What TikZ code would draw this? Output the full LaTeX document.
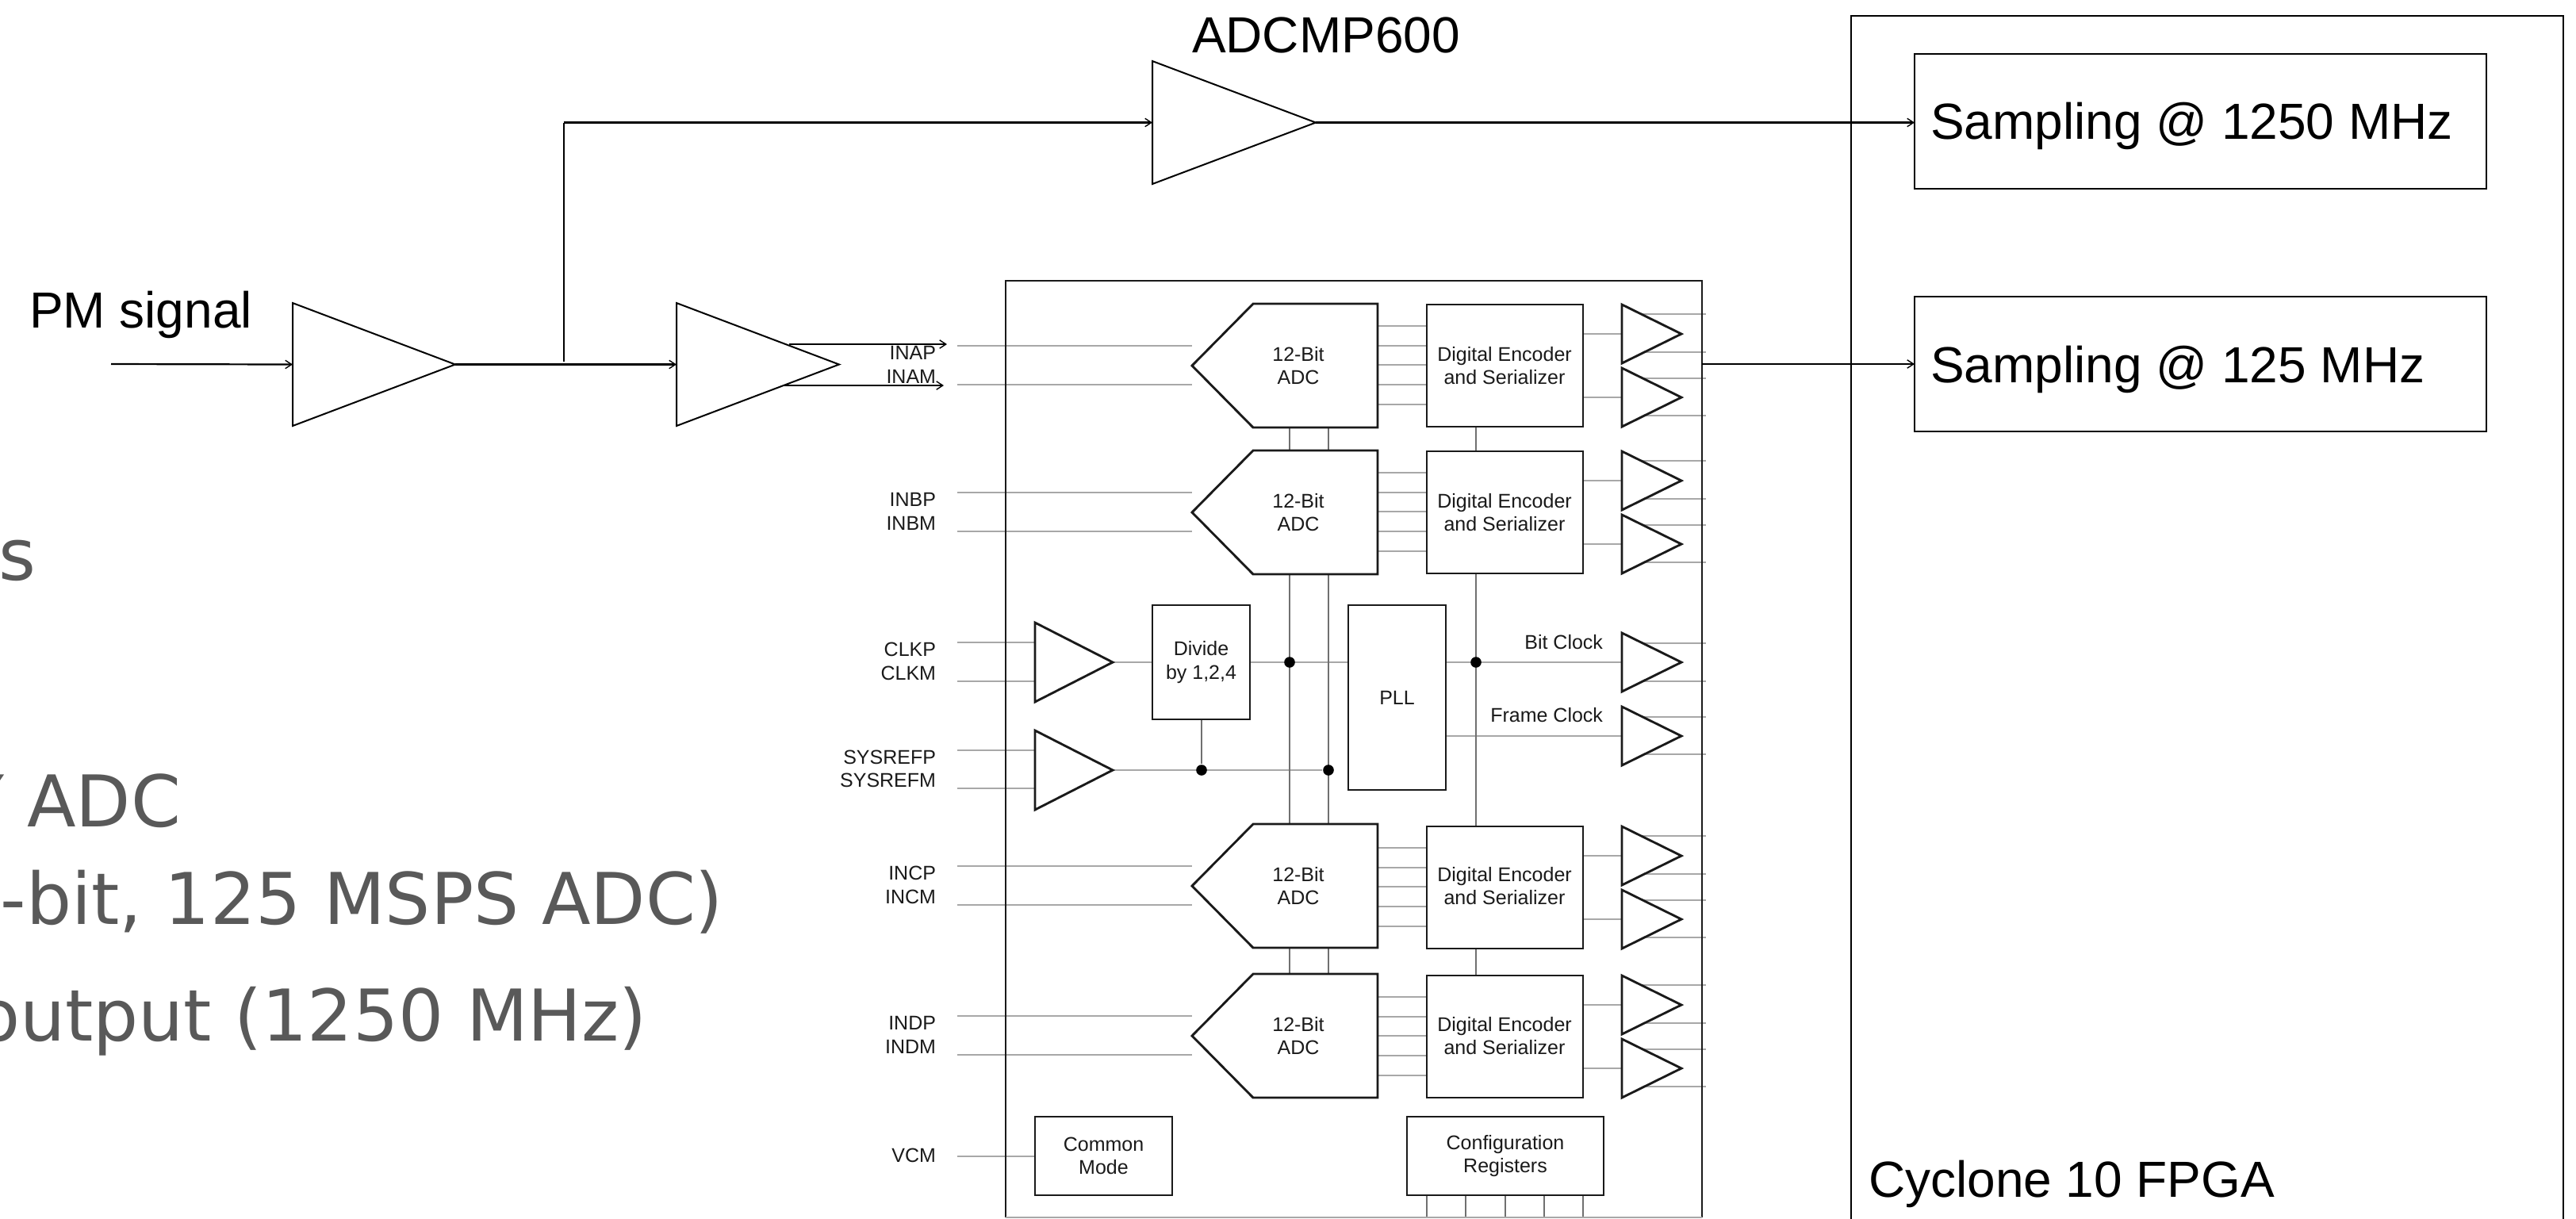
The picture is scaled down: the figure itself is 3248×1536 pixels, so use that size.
\documentclass[tikz,border=0pt]{standalone}
\usepackage{fontspec}
\setmainfont{Liberation Sans}
\newfontfamily\greyfont{DejaVu Sans}
\usetikzlibrary{arrows.meta,backgrounds}
\definecolor{sigGrey}{HTML}{A8A8A8}
\definecolor{thinGrey}{HTML}{707070}
\definecolor{slideGrey}{HTML}{595959}
\definecolor{chipInk}{HTML}{1A1A1A}
\tikzset{
  wire/.style={draw=black,line width=.55pt,-{Straight Barb[length=2pt,width=2.6pt,line width=.35pt]}},
  wireplain/.style={draw=black,line width=.45pt},
  outline/.style={draw=black,line width=.55pt},
  amp/.style={draw=black,line width=.5pt,fill=white,line join=miter},
  sig/.style={draw=sigGrey,line width=.65pt},
  thinsig/.style={draw=thinGrey,line width=.35pt},
  chipshape/.style={draw=chipInk,line width=.72pt,fill=white,line join=miter},
  chipborder/.style={draw=chipInk,line width=.55pt},
  ghost/.style={inner sep=0pt,outer sep=0pt,draw=none},
  chiptext/.style={inner sep=0pt,outer sep=0pt,text=chipInk,align=center,
    font=\fontsize{6.25pt}{7.3pt}\selectfont},
  pinlabel/.style={inner sep=0pt,outer sep=0pt,text=chipInk,anchor=base east,
    font=\fontsize{6.25pt}{7.3pt}\selectfont},
  bigtext/.style={inner sep=0pt,outer sep=0pt,anchor=base west,text=black,
    font=\fontsize{16pt}{19pt}\selectfont},
  slidetext/.style={inner sep=0pt,outer sep=0pt,anchor=base east,text=slideGrey,
    font=\fontsize{22.5pt}{27pt}\greyfont},
  dot/.style={circle,fill=black,inner sep=0pt,minimum size=3.4pt},
}
% box: name, x1, y1, x2, y2, style, text
\newcommand{\blockbox}[7]{%
  \node[#6,minimum width={((#4)-(#2))*.25pt},minimum height={((#5)-(#3))*.25pt},inner sep=0pt,outer sep=0pt]
    (#1) at ({((#2)+(#4))/2},{((#3)+(#5))/2}) {#7};}
% triangle: name, x, ytop, ybot, xtip, style
\newcommand{\triangleshape}[6]{%
  \draw[#6] (#2,{#3}) -- (#5,{((#3)+(#4))/2}) -- (#2,{#4}) -- cycle;
  \node[ghost,minimum width={((#5)-(#2))*.25pt},minimum height={((#4)-(#3))*.25pt}]
    (#1) at ({((#2)+(#5))/2},{((#3)+(#4))/2}) {};}
% row: letter, adc offset, encoder offset, P label, M label
\newcommand{\adcrow}[5]{%
  \draw[chipshape] (1503,{461+#2}) -- (1580,{383+#2}) -- (1737,{383+#2}) -- (1737,{539+#2}) -- (1580,{539+#2}) -- cycle;
  \node[ghost,minimum width=58.5pt,minimum height=39pt] (adc#1) at (1620,{461+#2}) {};
  \node[chiptext] (adctxt#1) at (1637,{461+#2}) {12-Bit\\ADC};
  \blockbox{enc#1}{1799}{384+#3}{1996}{538+#3}{chipshape}{}
  \node[chiptext] (enctxt#1) at (1897,{461+#2}) {Digital Encoder\\and Serializer};
  \triangleshape{triu#1}{2045}{384+#3}{458+#3}{2120}{chipshape}
  \triangleshape{tril#1}{2045}{464+#3}{538+#3}{2120}{chipshape}
  \node[pinlabel] (lblp#1) at (1180,{453+#2}) {#4};
  \node[pinlabel] (lblm#1) at (1180,{483+#2}) {#5};
  \coordinate (pinp#1) at (1207,{436+#2});
  \coordinate (pinm#1) at (1207,{485+#2});
  \begin{scope}[on background layer]
    \draw[sig] (pinp#1) -- (adc#1.west |- pinp#1);
    \draw[sig] (pinm#1) -- (adc#1.west |- pinm#1);
    \foreach \yy in {411,436,460,485,510}
      \draw[sig] (adc#1.east |- 0,{\yy+#3}) -- (enc#1.west |- 0,{\yy+#3});
    \draw[sig] (enc#1.east |- triu#1.east) -- (triu#1.west |- triu#1.east);
    \draw[sig] (enc#1.east |- tril#1.east) -- (tril#1.west |- tril#1.east);
    \foreach \yy in {396,444}
      \draw[sig] (triu#1.west |- 0,{\yy+#3}) -- (2151,{\yy+#3});
    \foreach \yy in {477,524}
      \draw[sig] (tril#1.west |- 0,{\yy+#3}) -- (2151,{\yy+#3});
  \end{scope}}
\begin{document}
\begin{tikzpicture}[x=.25pt,y=-.25pt]
\useasboundingbox (0,0) rectangle (3248,1536);
\clip (0,0) rectangle (3248,1536);

% slide text cut by the page edge
\node[slidetext] (slideA) at (45,731) {ts};
\node[slidetext] (slideB) at (228,1042) {Y ADC};
\node[slidetext] (slideC) at (912,1165) {-bit, 125 MSPS ADC)};
\node[slidetext] (slideD) at (816,1312) {output (1250 MHz)};

% FPGA
\draw[outline] (2334,1560) -- (2334,20) -- (3232,20) -- (3232,1560);
\blockbox{sampHi}{2414}{68}{3135}{238}{outline}{}
\blockbox{sampLo}{2414}{374}{3135}{544}{outline}{}
\node[bigtext] (sampHiT) at (2434,175) {Sampling @ 1250 MHz};
\node[bigtext] (sampLoT) at (2434,482) {Sampling @ 125 MHz};
\node[bigtext] (fpgaT) at (2356,1509) {Cyclone 10 FPGA};

% chip
\coordinate (chipTL) at (1268,354);
\coordinate (chipTR) at (2146,354);
\coordinate (chipBL) at (1268,1535);
\coordinate (chipBR) at (2146,1535);
\draw[chipborder] (chipBL) -- (chipTL) -- (chipTR) -- (chipBR);
\draw[draw=sigGrey,line width=.4pt] (chipBL) -- (chipBR);

\adcrow{A}{0}{0}{INAP}{INAM}
\adcrow{B}{185}{185}{INBP}{INBM}
\adcrow{C}{656}{658}{INCP}{INCM}
\adcrow{D}{845}{846}{INDP}{INDM}

% clock section
\triangleshape{clkbuf}{1305}{785}{885}{1403}{chipshape}
\triangleshape{sysbuf}{1305}{921}{1021}{1403}{chipshape}
\triangleshape{bitbuf}{2045}{798}{872}{2120}{chipshape}
\triangleshape{framebuf}{2045}{891}{965}{2120}{chipshape}
\blockbox{divide}{1453}{763}{1576}{907}{chipshape,chiptext}{Divide\\by 1,2,4}
\blockbox{pll}{1700}{763}{1823}{996}{chipshape,chiptext}{PLL}
\blockbox{common}{1305}{1408}{1478}{1507}{chipshape,chiptext}{Common\\Mode}
\blockbox{config}{1774}{1408}{2022}{1507}{chipshape,chiptext}{Configuration\\Registers}
\node[dot] (dotDiv) at (1626,835) {};
\node[dot] (dotPll) at (1861,835) {};
\node[dot] (dotSysA) at (1515,971) {};
\node[dot] (dotSysB) at (1675,971) {};
\node[pinlabel] (lblClkP) at (1180,827) {CLKP};
\node[pinlabel] (lblClkM) at (1180,857) {CLKM};
\node[pinlabel] (lblSysP) at (1180,963) {SYSREFP};
\node[pinlabel] (lblSysM) at (1180,992) {SYSREFM};
\node[pinlabel] (lblVcm) at (1180,1465) {VCM};
\node[pinlabel] (lblBit) at (2021,818) {Bit Clock};
\node[pinlabel] (lblFrame) at (2021,910) {Frame Clock};
\coordinate (pinClkP) at (1207,810);
\coordinate (pinClkM) at (1207,859);
\coordinate (pinSysP) at (1207,946);
\coordinate (pinSysM) at (1207,994);
\coordinate (pinVcm) at (1207,1458);

\begin{scope}[on background layer]
  \draw[sig] (pinClkP) -- (clkbuf.west |- pinClkP);
  \draw[sig] (pinClkM) -- (clkbuf.west |- pinClkM);
  \draw[sig] (pinSysP) -- (sysbuf.west |- pinSysP);
  \draw[sig] (pinSysM) -- (sysbuf.west |- pinSysM);
  \draw[sig] (pinVcm) -- (common.west |- pinVcm);
  \draw[sig] (clkbuf.east) -- (divide.west |- clkbuf.east);
  \draw[sig] (divide.east |- clkbuf.east) -- (pll.west |- clkbuf.east);
  \draw[sig] (pll.east |- bitbuf.east) -- (bitbuf.west);
  \draw[sig] (pll.east |- framebuf.east) -- (framebuf.west);
  \draw[sig] (sysbuf.east) -- (dotSysB);
  \draw[thinsig] (divide.south -| dotSysA) -- (dotSysA);
  \draw[thinsig] (dotDiv |- adcA.south) -- (dotDiv |- adcD.north);
  \draw[thinsig] (dotSysB |- adcA.south) -- (dotSysB |- adcD.north);
  \draw[thinsig] (dotPll |- encA.south) -- (dotPll |- encD.north);
  \foreach \xx in {1799,1848,1898,1947,1996}
    \draw[thinsig] (\xx,1507) -- (\xx,1535);
  \draw[sig] (bitbuf.west |- 0,811) -- (2151,811);
  \draw[sig] (bitbuf.west |- 0,859) -- (2151,859);
  \draw[sig] (framebuf.west |- 0,904) -- (2151,904);
  \draw[sig] (framebuf.west |- 0,951) -- (2151,951);
\end{scope}

% front end
\coordinate (pmIn) at (140,459);
\coordinate (branch) at (711,456);
\coordinate (outP) at (1194,434);
\coordinate (outM) at (1190,486);
\triangleshape{ampOne}{369}{382}{537}{574}{amp}
\triangleshape{ampTwo}{853}{382}{537}{1058}{amp}
\triangleshape{ampTop}{1453}{77}{232}{1659}{amp}
\node[bigtext] (pmT) at (37,413) {PM signal};
\node[bigtext] (cmpT) at (1503,66) {ADCMP600};

\draw[wire] (pmIn) -- (ampOne.west);
\draw[wire] (ampOne.east) -- (ampTwo.west);
\draw[wireplain] (branch) -- (branch |- ampTop.west);
\draw[wire] (branch |- ampTop.west) -- (ampTop.west);
\draw[wire] (ampTop.east) -- (sampHi.west |- ampTop.east);
\draw[wire] (chipTR |- sampLo.west) -- (sampLo.west);
\draw[wire] (995,434) -- (outP);
\draw[wire] (987,486) -- (outM);
\end{tikzpicture}
\end{document}
